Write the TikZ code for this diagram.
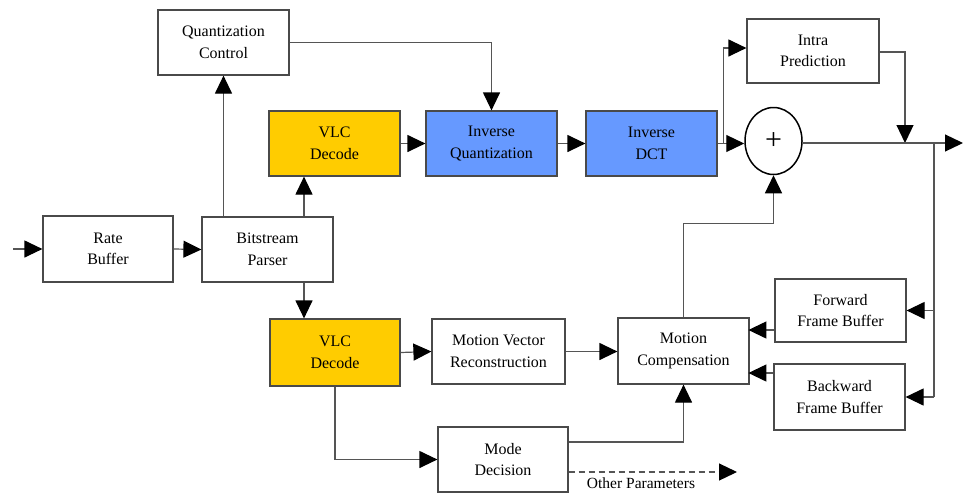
\documentclass[tikz,border=0pt]{standalone}
\usepackage{fontspec}
\setmainfont{Liberation Serif}
\usetikzlibrary{arrows.meta,shapes.geometric,calc}
\definecolor{vlcyellow}{HTML}{FFCC00}
\definecolor{invblue}{HTML}{6699FF}
\definecolor{wire}{HTML}{555555}
\definecolor{edge}{HTML}{4A4A4A}
\begin{document}
\begin{tikzpicture}[x=1pt,y=-1pt,
  every node/.style={font=\rmfamily\fontsize{16}{21.5}\selectfont},
  blk/.style={draw=edge,line width=1.2pt,rectangle,inner sep=0pt,align=center,
    minimum width=131pt,minimum height=65pt},
  vlcbox/.style={blk,fill=vlcyellow},
  invbox/.style={blk,fill=invblue},
  arr/.style={draw=wire,line width=1.2pt,-{Triangle[length=18pt,width=17pt,fill=black,color=black]}},
  wireline/.style={draw=wire,line width=1.2pt}]
\useasboundingbox (0,0) rectangle (963,493);

% processing blocks
\node[blk] (qc) at (223.5,42.5) {Quantization\\Control};
\node[vlcbox] (vlc1) at (334.5,143.5) {VLC\\Decode};
\node[invbox] (iq) at (491.5,143.5) {Inverse\\Quantization};
\node[invbox] (idct) at (651.5,143.5) {Inverse\\DCT};
\node[draw=black,line width=1.5pt,ellipse,minimum width=57pt,minimum height=67pt,inner sep=0pt,
  font=\rmfamily\fontsize{30}{30}\selectfont] (sum) at (773.5,141) {+};
\node[blk,minimum width=132pt,minimum height=64pt] (intra) at (813,51) {Intra\\Prediction};
\node[blk,minimum width=130pt,minimum height=66pt] (rate) at (108,249) {Rate\\Buffer};
\node[blk] (bp) at (267.5,249.5) {Bitstream\\Parser};
\node[vlcbox,minimum width=130pt,minimum height=67pt] (vlc2) at (335,352.5) {VLC\\Decode};
\node[blk,minimum width=133pt] (mvr) at (498.5,351.5) {Motion Vector\\Reconstruction};
\node[blk,minimum height=66pt] (mc) at (683.5,351) {Motion\\Compensation};
\node[blk,minimum height=63pt] (ffb) at (840.5,310.5) {Forward\\Frame Buffer};
\node[blk,minimum height=66pt] (bfb) at (839.5,397) {Backward\\Frame Buffer};
\node[blk,minimum width=130pt] (md) at (503,459.5) {Mode\\Decision};

% free ends and junctions
\coordinate (in) at (13,249);
\coordinate (out) at (963,143);
\coordinate (merge) at (905,143);
\coordinate (tap) at (934,143);
\coordinate (op) at (737,472);

% main decoding path
\draw[arr] (in) -- (rate.west);
\draw[arr] (rate.east) -- (bp.west);
\draw[arr] (bp.north -| qc.south) -- (qc.south);
\draw[arr] ($(bp.north)+(36.5,0)$) -- ($(vlc1.south)+(-30.5,0)$);
\draw[arr] ($(bp.south)+(36.5,0)$) -- ($(vlc2.north)+(-31,0)$);
\draw[arr] (qc.east) -| (iq.north);
\draw[arr] (vlc1.east) -- (iq.west);
\draw[arr] (iq.east) -- (idct.west);
\draw[arr] (idct.east) -- (idct.east -| sum.west);
\draw[arr] ($(idct.east)+(6,0)$) |- ($(intra.west)+(0,-3)$);
\draw[arr] ($(intra.east)+(0,1)$) -| (merge);
\draw[arr] (sum.east |- out) -- (out);

% reference frame feedback
\draw[wireline] (tap) -- (tap |- bfb.east);
\draw[arr] (tap |- ffb.east) -- (ffb.east);
\draw[arr] (tap |- bfb.east) -- (bfb.east);
\draw[arr] ($(ffb.west)+(0,19.5)$) -- ($(ffb.west)+(-26,19.5)$);
\draw[arr] ($(bfb.west)+(0,-24)$) -- ($(bfb.west)+(-25,-24)$);

% motion path
\draw[arr] (vlc2.east) -- (mvr.west);
\draw[arr] (mvr.east) -- (mvr.east -| mc.west);
\draw[arr] (vlc2.south) |- (md.west);
\draw[arr] ($(md.east)+(0,-17.5)$) -| (mc.south);
\draw[arr] (mc.north) -- ++(0,-94) -| (sum.south);
\draw[arr,dashed,dash pattern=on 6pt off 4pt] ($(md.east)+(0,12.5)$) -- (op);
\node[font=\rmfamily\fontsize{15.5}{15.5}\selectfont,inner sep=0pt,anchor=north] (oplabel) at (641,478) {Other Parameters};
\end{tikzpicture}
\end{document}
